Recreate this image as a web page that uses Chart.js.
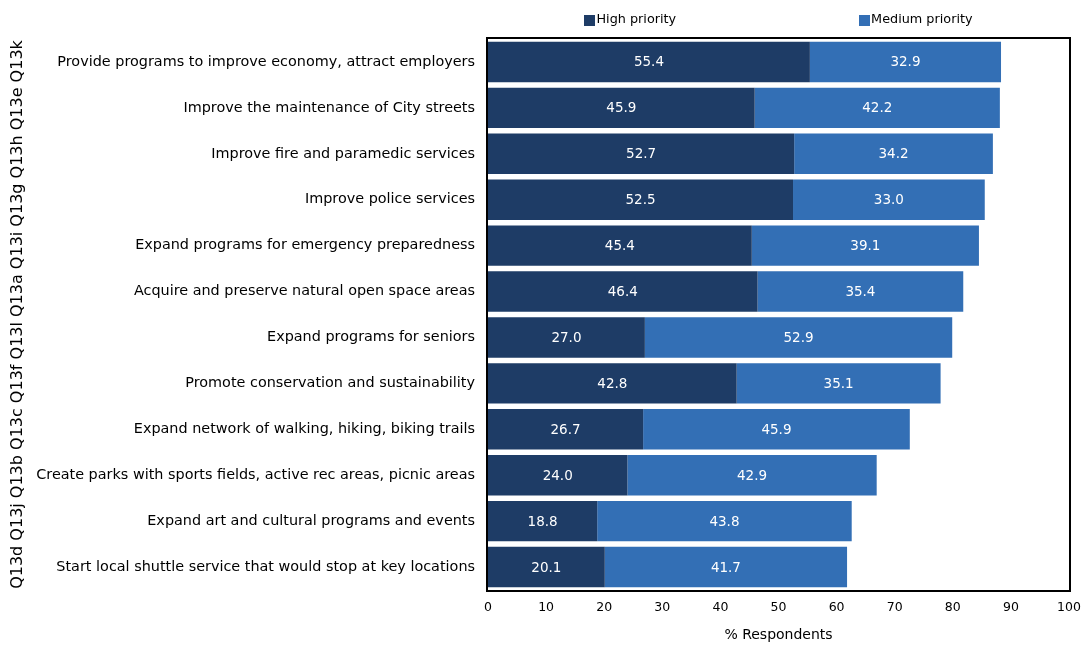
<!DOCTYPE html>
<html>
<head>
<meta charset="utf-8">
<script src="https://cdn.jsdelivr.net/npm/chart.js@4.4.0/dist/chart.umd.min.js"></script>
<style>
html,body{margin:0;padding:0;background:#fff;}
#wrap{width:1081px;height:648px;position:relative;}
</style>
</head>
<body>
<div id="wrap"><canvas id="c" width="1081" height="648"></canvas></div>
<script>
const categories = [
  "Provide programs to improve economy, attract employers",
  "Improve the maintenance of City streets",
  "Improve fire and paramedic services",
  "Improve police services",
  "Expand programs for emergency preparedness",
  "Acquire and preserve natural open space areas",
  "Expand programs for seniors",
  "Promote conservation and sustainability",
  "Expand network of walking, hiking, biking trails",
  "Create parks with sports fields, active rec areas, picnic areas",
  "Expand art and cultural programs and events",
  "Start local shuttle service that would stop at key locations"
];
const codes = ["Q13k","Q13e","Q13h","Q13g","Q13i","Q13a","Q13l","Q13f","Q13c","Q13b","Q13j","Q13d"];
const highPriority = [55.4, 45.9, 52.7, 52.5, 45.4, 46.4, 27.0, 42.8, 26.7, 24.0, 18.8, 20.1];
const mediumPriority = [32.9, 42.2, 34.2, 33.0, 39.1, 35.4, 52.9, 35.1, 45.9, 42.9, 43.8, 41.7];
const xTicks = [0,10,20,30,40,50,60,70,80,90,100];
const axisTitle = "% Respondents";

const FONT = "'DejaVu Sans', Verdana, sans-serif";

const valueLabels = {
  id: 'valueLabels',
  afterDatasetsDraw(chart) {
    const ctx = chart.ctx;
    ctx.save();
    ctx.fillStyle = '#ffffff';
    ctx.font = "13.5px " + FONT;
    ctx.textAlign = 'center';
    ctx.textBaseline = 'middle';
    chart.data.datasets.forEach((ds, di) => {
      const meta = chart.getDatasetMeta(di);
      meta.data.forEach((el, i) => {
        const p = el.getProps(['x','y','base'], true);
        ctx.fillText(ds.data[i].toFixed(1), (p.x + p.base) / 2, p.y + 1);
      });
    });
    ctx.restore();
  }
};

const frame = {
  id: 'frame',
  afterDraw(chart) {
    const a = chart.chartArea;
    const ctx = chart.ctx;
    ctx.save();
    ctx.strokeStyle = '#000';
    ctx.lineWidth = 2;
    ctx.strokeRect(a.left - 1, a.top - 1, a.right - a.left + 2, a.bottom - a.top + 2);
    ctx.restore();
  }
};

const topLegend = {
  id: 'topLegend',
  afterDraw(chart) {
    const a = chart.chartArea;
    const ctx = chart.ctx;
    const box = 11, gapText = 1, gapItems = 183, cy = 20;
    ctx.save();
    ctx.font = "12.8px " + FONT;
    ctx.textBaseline = 'middle';
    ctx.textAlign = 'left';
    const items = chart.data.datasets.map(ds => ({ label: ds.label, color: ds.backgroundColor, w: box + gapText + ctx.measureText(ds.label).width }));
    const total = items.reduce((s, it) => s + it.w, 0) + gapItems * (items.length - 1);
    let x = (a.left + a.right) / 2 - total / 2;
    items.forEach(it => {
      ctx.fillStyle = it.color;
      ctx.fillRect(Math.round(x), cy - 5, box, box);
      ctx.fillStyle = '#000';
      ctx.fillText(it.label, x + box + gapText, cy);
      x += it.w + gapItems;
    });
    ctx.restore();
  }
};

new Chart(document.getElementById('c'), {
  type: 'bar',
  data: {
    labels: categories,
    datasets: [
      { label: 'High priority', data: highPriority, backgroundColor: '#1E3C66', borderWidth: 0 },
      { label: 'Medium priority', data: mediumPriority, backgroundColor: '#336FB5', borderWidth: 0 }
    ]
  },
  options: {
    indexAxis: 'y',
    responsive: false,
    animation: false,
    devicePixelRatio: 1,
    layout: { padding: { left: 0, right: 12, top: 39, bottom: 0 } },
    datasets: { bar: { barPercentage: 0.88, categoryPercentage: 1.0 } },
    plugins: {
      legend: { display: false },
      tooltip: { enabled: false }
    },
    scales: {
      x: {
        stacked: true,
        min: 0, max: 100,
        afterBuildTicks(scale) { scale.ticks = xTicks.map(v => ({ value: v })); },
        grid: { display: false, drawTicks: false },
        border: { display: false },
        ticks: { color: '#000', padding: 10, font: { family: FONT, size: 12.5 }, maxRotation: 0, autoSkip: false },
        title: { display: true, text: axisTitle, color: '#000', font: { family: FONT, size: 14 }, padding: { top: 4, bottom: 4 } },
        afterFit(scale) { scale.height = 58; scale.paddingLeft = 0; scale.paddingRight = 0; }
      },
      y: {
        stacked: true,
        grid: { display: false, drawTicks: false },
        border: { display: false },
        ticks: { color: '#000', padding: 13, font: { family: FONT, size: 14.4 }, autoSkip: false },
        title: { display: true, text: codes.slice().reverse().join(' '), color: '#000', font: { family: FONT, size: 16 }, padding: { top: 8, bottom: 8 } },
        afterFit(scale) { scale.width = 488; scale.paddingTop = 0; scale.paddingBottom = 0; }
      }
    }
  },
  plugins: [valueLabels, frame, topLegend]
});
</script>
</body>
</html>
